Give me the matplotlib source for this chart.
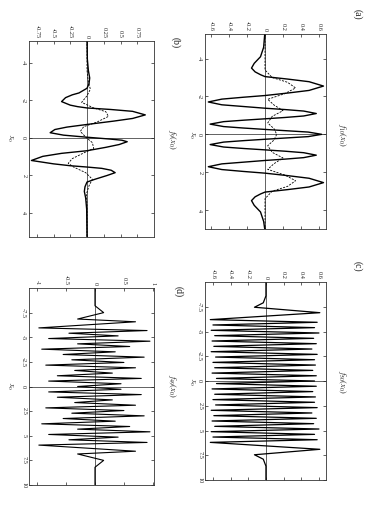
import matplotlib.pyplot as plt

plt.rcParams['font.family'] = ['Liberation Serif', 'DejaVu Serif']
plt.rcParams['mathtext.fontset'] = 'stix'

# ---- panel (a) ----
a_x0 = [-5.3, -4.6, -4.1, -3.75, -3.5, -3.3, -3.15, -3.05, -2.92, -2.78, -2.55, -2.32, -2.18,
        -2.05, -1.96, -1.86, -1.71, -1.56, -1.47, -1.38, -1.31, -1.23, -1.10, -0.97, -0.89,
        -0.82, -0.75, -0.67, -0.54, -0.41, -0.33, -0.26, -0.19, -0.12, 0.0,
        0.12, 0.19, 0.26, 0.33, 0.41, 0.54, 0.67, 0.75, 0.82, 0.89, 0.97, 1.10, 1.23, 1.31,
        1.38, 1.47, 1.56, 1.71, 1.86, 1.96, 2.05, 2.18, 2.32, 2.55, 2.78, 2.92, 3.05,
        3.15, 3.3, 3.5, 3.75, 4.1, 4.6, 5.0]
a_solid = [-0.003, -0.015, -0.05, -0.12, -0.15, -0.11, -0.05, 0.0, 0.25, 0.49, 0.65, 0.49, 0.25,
           0.0, -0.24, -0.48, -0.63, -0.48, -0.24, 0.0, 0.22, 0.43, 0.57, 0.43, 0.22,
           0.0, -0.23, -0.46, -0.61, -0.46, -0.23, 0.0, 0.24, 0.48, 0.63,
           0.48, 0.24, 0.0, -0.23, -0.46, -0.61, -0.46, -0.23, 0.0, 0.22, 0.43, 0.57, 0.43, 0.22,
           0.0, -0.24, -0.48, -0.63, -0.48, -0.24, 0.0, 0.25, 0.49, 0.65, 0.49, 0.25, 0.0,
           -0.05, -0.11, -0.15, -0.12, -0.05, -0.015, -0.003]
a_dash_x0 = [-5.3, -4.0, -3.4, -3.0, -2.75, -2.45, -2.15, -1.85, -1.55, -1.25, -0.95,
             -0.6, -0.3, 0.0, 0.3, 0.6, 0.95, 1.25, 1.55, 1.85, 2.15, 2.45, 2.75, 3.0,
             3.4, 4.0, 5.0]
a_dash = [0.0, 0.0, 0.0, 0.08, 0.25, 0.34, 0.22, 0.03, 0.1, 0.2, 0.08,
          0.03, 0.1, 0.13, 0.1, 0.03, 0.08, 0.2, 0.1, 0.03, 0.22, 0.34, 0.25, 0.08,
          0.0, 0.0, 0.0]

# ---- panel (b) ----
b_x0 = [-5.2, -4.2, -3.6, -3.2, -2.9, -2.65, -2.4, -2.3, -2.15, -1.94, -1.75, -1.67, -1.6,
        -1.52, -1.42, -1.23, -1.04, -0.9, -0.72, -0.58, -0.45, -0.28, -0.15, -0.04,
        0.06, 0.12, 0.2, 0.35, 0.5, 0.68, 0.82, 0.98, 1.2, 1.38, 1.48, 1.55,
        1.62, 1.72, 1.85, 2.0, 2.2, 2.35, 2.6, 2.85, 3.2, 3.8, 5.3]
b_solid = [0.0, 0.005, 0.02, 0.04, 0.03, 0.0, -0.12, -0.22, -0.32, -0.38, -0.25, -0.14, 0.0,
           0.35, 0.68, 0.87, 0.68, 0.4, 0.0, -0.3, -0.48, -0.55, -0.35, 0.0,
           0.35, 0.52, 0.6, 0.48, 0.28, 0.0, -0.38, -0.66, -0.83, -0.5, -0.25, 0.0,
           0.22, 0.36, 0.42, 0.3, 0.12, 0.0, -0.03, -0.04, -0.02, -0.005, 0.0]
b_dash_x0 = [-5.2, -3.6, -3.0, -2.6, -2.25, -1.9, -1.6, -1.4, -1.15, -0.85, -0.6,
             -0.35, -0.05, 0.25, 0.55, 0.8, 1.1, 1.35, 1.55, 1.85, 2.2, 2.55, 3.0, 3.6, 5.3]
b_dash = [0.0, 0.0, 0.02, 0.05, 0.0, -0.08, 0.1, 0.28, 0.32, 0.15, -0.05,
          -0.1, -0.02, 0.08, 0.1, -0.05, -0.22, -0.28, -0.2, -0.02, 0.08, 0.03, -0.01, 0.0, 0.0]

# ---- panel (c) ----
c_x0 = [-10.0, -8.6, -7.9, -7.45, -6.9,
        -6.20, -5.93, -5.66, -5.39, -5.12, -4.85, -4.58, -4.31, -4.04, -3.77, -3.50, -3.23,
        -2.96, -2.69, -2.42, -2.15, -1.88, -1.61, -1.34, -1.07, -0.80, -0.53, -0.26, 0.00,
        0.26, 0.53, 0.80, 1.07, 1.34, 1.61, 1.88, 2.15, 2.42, 2.69, 2.96, 3.23, 3.50, 3.77,
        4.04, 4.31, 4.58, 4.85, 5.12, 5.39, 5.66, 5.93, 6.20,
        6.9, 7.45, 7.9, 8.6, 10.0]
c_val = [0.0, 0.0, -0.03, -0.13, 0.61,
         -0.63, 0.58, -0.60, 0.55, -0.62, 0.60, -0.58, 0.54, -0.61, 0.57, -0.59, 0.52,
         -0.62, 0.58, -0.57, 0.55, -0.60, 0.56, -0.58, 0.53, -0.61, 0.57, -0.56, 0.55,
         -0.56, 0.57, -0.61, 0.53, -0.58, 0.56, -0.60, 0.55, -0.57, 0.58, -0.62, 0.52,
         -0.59, 0.57, -0.61, 0.54, -0.58, 0.60, -0.62, 0.55, -0.60, 0.58, -0.63,
         0.61, -0.13, -0.03, 0.0, 0.0]

# ---- panel (d) ----
d_x0 = [-10.0, -8.2, -7.5, -6.85, -6.57,
        -5.95, -5.68, -5.41, -5.14, -4.87, -4.60, -4.33, -4.06, -3.79, -3.52, -3.25, -2.98,
        -2.71, -2.44, -2.17, -1.90, -1.63, -1.36, -1.09, -0.82, -0.55, -0.28, 0.00,
        0.28, 0.55, 0.82, 1.09, 1.36, 1.63, 1.90, 2.17, 2.44, 2.71, 2.98, 3.25, 3.52,
        3.79, 4.06, 4.33, 4.60, 4.87, 5.14, 5.41, 5.68, 5.95,
        6.57, 6.85, 7.5, 8.2, 10.0]
d_val = [0.0, 0.0, 0.15, -0.3, 0.7,
         -0.97, 0.90, -0.45, 0.40, -0.80, 0.95, -0.30, 0.60, -0.92, 0.35, -0.55, 0.85,
         -0.40, 0.50, -0.85, 0.70, -0.35, 0.30, -0.65, 0.80, -0.80, 0.45, -0.30,
         0.45, -0.80, 0.80, -0.65, 0.30, -0.35, 0.70, -0.85, 0.50, -0.40, 0.85, -0.55, 0.35,
         -0.92, 0.60, -0.30, 0.95, -0.80, 0.40, -0.45, 0.90, -0.97,
         0.7, -0.3, 0.15, 0.0, 0.0]

# ticks
a_vticks = [-0.6, -0.4, -0.2, 0, 0.2, 0.4, 0.6]
a_vlabels = ['-0.6', '-0.4', '-0.2', '0', '0.2', '0.4', '0.6']
b_vticks = [-0.75, -0.5, -0.25, 0, 0.25, 0.5, 0.75]
b_vlabels = ['-0.75', '-0.5', '-0.25', '0', '0.25', '0.5', '0.75']
d_vticks = [-1, -0.5, 0, 0.5, 1]
d_vlabels = ['-1', '-0.5', '0', '0.5', '1']
x0_ticks = [-4, -2, 0, 2, 4]
x0_labels = ['-4', '-2', '0', '2', '4']
x0_ticks_wide = [-7.5, -5, -2.5, 0, 2.5, 5, 7.5, 10]
x0_labels_wide = ['-7.5', '-5', '-2.5', '0', '2.5', '5', '7.5', '10']

W, H = 373, 511
fig = plt.figure(figsize=(W / 100, H / 100), dpi=100)
ink = '#222222'


def panel(box, vlim, xlim, vticks, vlabels, xticks, xlabels):
    l, t, r, b = box
    ax = fig.add_axes([l / W, 1 - b / H, (r - l) / W, (b - t) / H])
    ax.set_xlim(*vlim)
    ax.set_ylim(xlim[1], xlim[0])  # x0 grows downwards (page turned)
    ax.xaxis.tick_top()
    ax.set_xticks(vticks)
    ax.set_xticklabels(vlabels, rotation=-90, ha='center', va='bottom')
    ax.set_yticks(xticks)
    ax.set_yticklabels(xlabels, rotation=-90, ha='right', va='center')
    ax.tick_params(direction='in', length=2.5, width=0.5, pad=2, labelsize=4.5,
                   colors=ink, top=True, bottom=True, left=True, right=True,
                   labeltop=True, labelbottom=False)
    for s in ax.spines.values():
        s.set_linewidth(0.6)
        s.set_color('#333333')
    ax.axvline(0, color=ink, lw=0.5, zorder=1)
    ax.axhline(0, color=ink, lw=0.5, zorder=1)
    return ax


ax = panel((205, 34, 326, 229), (-0.667, 0.678), (-5.3, 5.0),
           a_vticks, a_vlabels, x0_ticks, x0_labels)
ax.plot(a_solid, a_x0, color='black', lw=1.0)
ax.plot(a_dash, a_dash_x0, color='black', lw=0.6, dashes=(2.5, 1.5))

ax = panel((29, 41, 154, 237), (-0.866, 1.0), (-5.17, 5.28),
           b_vticks, b_vlabels, x0_ticks, x0_labels)
ax.plot(b_solid, b_x0, color='black', lw=1.0)
ax.plot(b_dash, b_dash_x0, color='black', lw=0.6, dashes=(2.5, 1.5))

ax = panel((205, 282, 326, 480), (-0.69, 0.68), (-10.0, 10.0),
           a_vticks, a_vlabels, x0_ticks_wide, x0_labels_wide)
ax.plot(c_val, c_x0, color='black', lw=0.9)

ax = panel((29, 288, 154, 485), (-1.14, 1.02), (-10.0, 10.0),
           d_vticks, d_vlabels, x0_ticks_wide, x0_labels_wide)
ax.plot(d_val, d_x0, color='black', lw=0.8)

# titles and axis labels, turned with the page
for x, y, s in [(357, 14, '(a)'), (175, 43, '(b)'), (357, 266, '(c)'), (178, 292, '(d)')]:
    fig.text(x / W, 1 - y / H, s, rotation=-90, ha='center', va='center', fontsize=7, color=ink)
for x, y, s in [(342, 135, r'$f_{10}(x_0)$'), (172, 140, r'$f_{9}(x_0)$'),
                (342, 382, r'$f_{50}(x_0)$'), (172, 386, r'$f_{49}(x_0)$')]:
    fig.text(x / W, 1 - y / H, s, rotation=-90, ha='center', va='center', fontsize=6, color=ink)
for x, y in [(192, 135), (10, 138), (192, 382), (10, 386)]:
    fig.text(x / W, 1 - y / H, r'$x_0$', rotation=-90, ha='center', va='center', fontsize=5.5, color=ink)

fig.savefig('out.png', dpi=100)
